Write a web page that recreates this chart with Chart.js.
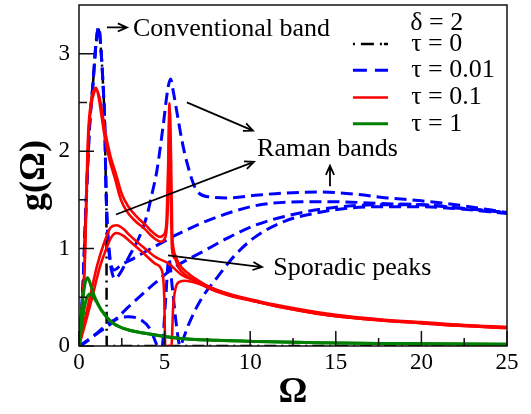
<!DOCTYPE html>
<html>
<head>
<meta charset="utf-8">
<script src="https://cdn.jsdelivr.net/npm/chart.js@4.4.1/dist/chart.umd.min.js"></script>
<style>
  html, body { margin: 0; padding: 0; background: #fff; }
  #wrap { width: 531px; height: 414px; }
  .warm { position: absolute; left: -999px; top: 0; font-family: "Liberation Serif"; }
</style>
</head>
<body>
<div class="warm">Ωg τδ 0123 <b>Ω</b></div>
<div id="wrap"><canvas id="c" width="531" height="414"></canvas></div>
<script>
// g(Ω), as [Ω, g] pairs
const tau0 = [[0,0],[0.2,0.5],[0.4,1.4],[0.62,2.26],[0.82,2.7],[1.0,3.1],[1.15,3.25],[1.3,3.0],[1.4,2.7],[1.5,2.3],[1.58,1.6],[1.6,1.42],[1.62,0],[5,0],[25,0]];

const tau001a = [[0,0],[0.2,0.5],[0.4,1.4],[0.62,2.26],[0.82,2.7],[1.0,3.12],[1.15,3.27],[1.3,3.0],[1.4,2.7],[1.5,2.3],[1.58,1.6],[1.65,1.25],[1.79,0.9],[1.95,0.74],[2.1,0.69],[2.3,0.72],[2.9,0.91],[3.6,1.15],[4.0,1.36],[4.25,1.55],[4.55,1.8],[4.9,2.24],[5.2,2.65],[5.35,2.74],[5.5,2.62],[5.7,2.42],[6.0,2.12],[6.28,1.9],[6.86,1.6],[7.64,1.53],[8.7,1.52],[10.5,1.55],[12,1.57],[14,1.58],[16,1.56],[18,1.52],[20,1.49],[22,1.45],[25,1.37]];
const tau001b = [[0,0],[0.2,0.5],[0.4,1.4],[0.62,2.26],[0.82,2.7],[1.0,3.12],[1.15,3.27],[1.3,3.0],[1.4,2.7],[1.5,2.3],[1.58,1.6],[1.65,1.25],[1.78,0.95],[1.9,0.82],[2.05,0.78],[2.45,0.83],[3.2,0.9],[4.0,0.98],[5.8,1.15],[7.7,1.3],[10.3,1.44],[13,1.48],[15,1.48],[18,1.46],[20,1.45],[22,1.42],[25,1.37]];
const tau001c = [[0,0],[0.33,0.03],[1.0,0.12],[1.87,0.23],[3.0,0.42],[4.4,0.64],[5.6,0.81],[7.35,0.98],[8.7,1.11],[10.3,1.24],[12,1.33],[14,1.4],[16,1.44],[18,1.45],[20,1.45],[22,1.42],[25,1.37]];
const tau001d = [[0,0],[0.5,0.06],[1.1,0.14],[1.87,0.25],[2.86,0.3],[3.6,0.27],[4.2,0.16],[4.5,0.03],[4.6,0],[4.85,0],[5.05,0.45],[5.25,0.9],[5.45,0.6],[5.7,0.2],[5.9,0],[6.1,0.08],[6.4,0.22],[7.1,0.47],[8.1,0.71],[9.1,0.93],[10.3,1.12],[12,1.28],[14,1.37],[16,1.42],[18,1.43],[20,1.43],[22,1.41],[25,1.36]];

const tau01a = [[0,0],[0.15,0.35],[0.33,0.85],[0.42,1.5],[0.53,2.16],[0.7,2.5],[0.85,2.62],[1.0,2.65],[1.15,2.55],[1.3,2.38],[1.5,2.15],[1.8,1.9],[2.1,1.72],[2.45,1.5],[2.8,1.38],[3.3,1.28],[3.85,1.2],[4.3,1.12],[4.8,1.07],[5.0,1.1],[5.1,1.17],[5.2,1.5],[5.28,2.49],[5.36,1.6],[5.43,1.0],[5.6,0.9],[5.8,0.81],[6.3,0.72],[6.95,0.65],[7.6,0.59],[8.7,0.52],[10.5,0.45],[12.5,0.38],[15,0.31],[17.5,0.27],[20,0.24],[22.5,0.21],[25,0.19]];
const tau01b = [[0,0],[0.15,0.33],[0.33,0.8],[0.43,1.45],[0.55,2.12],[0.72,2.47],[0.88,2.6],[1.03,2.63],[1.2,2.55],[1.35,2.4],[1.55,2.18],[1.85,1.94],[2.15,1.77],[2.5,1.56],[2.85,1.44],[3.35,1.33],[3.9,1.24],[4.35,1.16],[4.75,1.12],[4.95,1.14],[5.1,1.25],[5.2,1.8],[5.3,2.42],[5.38,1.9],[5.44,1.2],[5.52,1.0],[5.65,0.92],[5.85,0.84],[6.35,0.75],[7.0,0.67],[7.6,0.61],[8.7,0.54],[10.5,0.46],[12.5,0.39],[15,0.32],[17.5,0.275],[20,0.245],[22.5,0.215],[25,0.195]];
const tau01c = [[0,0],[0.35,0.28],[0.7,0.55],[1.05,0.82],[1.45,1.05],[1.87,1.22],[2.2,1.24],[2.6,1.2],[3.0,1.13],[3.85,1.0],[4.5,0.91],[5.2,0.85],[6.0,0.73],[6.8,0.67],[7.6,0.6],[8.7,0.53],[10.5,0.45],[12.5,0.375],[15,0.305],[17.5,0.265],[20,0.235],[22.5,0.205],[25,0.185]];
const tau01d = [[0,0],[0.4,0.25],[0.8,0.52],[1.2,0.8],[1.6,1.0],[1.9,1.12],[2.2,1.16],[2.6,1.13],[3.0,1.07],[3.85,0.94],[4.5,0.84],[4.85,0.77],[4.98,0.5],[5.04,0],[5.4,0],[5.5,0.4],[5.65,0.6],[5.9,0.66],[6.2,0.67],[6.8,0.65],[7.6,0.6],[8.7,0.53],[10.5,0.45],[12.5,0.375],[15,0.305],[17.5,0.265],[20,0.235],[22.5,0.205],[25,0.185]];

const tau1a = [[0,0],[0.12,0.3],[0.25,0.52],[0.38,0.66],[0.5,0.7],[0.62,0.66],[0.8,0.56],[1.0,0.47],[1.3,0.37],[1.87,0.25],[2.6,0.18],[3.85,0.13],[5.8,0.08],[8,0.058],[10.45,0.045],[14,0.033],[18,0.026],[25,0.018]];
const tau1b = [[0,0],[0.15,0.2],[0.3,0.38],[0.45,0.49],[0.62,0.53],[0.8,0.51],[1.0,0.46],[1.3,0.37],[1.87,0.25],[2.6,0.18],[3.85,0.13],[5.8,0.08],[8,0.058],[10.45,0.045],[14,0.033],[18,0.026],[25,0.018]];

const seriesLabels = ['τ = 0', 'τ = 0.01', 'τ = 0.1', 'τ = 1'];
const legendTitle = 'δ = 2';
const xMajor = [0, 5, 10, 15, 20, 25];
const xMinor = [2.5, 7.5, 12.5, 17.5, 22.5];
const yMajor = [0, 1, 2, 3];
const yMinor = [0.5, 1.5, 2.5];

const SERIF = "'Liberation Serif', 'Times New Roman', Times, serif";
const styles = [
  { color: '#000000', dash: [12, 5, 2, 5], width: 2.5 },
  { color: '#0000ff', dash: [12, 6], width: 3 },
  { color: '#ff0000', dash: [], width: 2.6 },
  { color: '#008000', dash: [], width: 3 }
];

// which series group each curve belongs to; later groups draw on top
const curves = [
  [tau0, 0],
  [tau001a, 1], [tau001b, 1], [tau001c, 1], [tau001d, 1],
  [tau01a, 2], [tau01b, 2], [tau01c, 2], [tau01d, 2],
  [tau1a, 3], [tau1b, 3]
];

const datasets = curves.map(([pts, g]) => ({
  label: seriesLabels[g],
  data: pts.map(([x, y]) => ({ x, y })),
  borderColor: styles[g].color,
  borderDash: styles[g].dash,
  borderWidth: styles[g].width,
  pointRadius: 0,
  pointHoverRadius: 0,
  fill: false,
  cubicInterpolationMode: 'monotone',
  order: 10 - g
}));

// annotation text + arrows, in data coordinates
const notes = [
  { text: 'Conventional band', x: 3.15, y: 3.25 },
  { text: 'Raman bands', x: 10.4, y: 2.02 },
  { text: 'Sporadic peaks', x: 11.35, y: 0.8 }
];
const arrows = [
  [1.63, 3.27, 2.8, 3.27],
  [6.3, 2.5, 10.16, 2.21],
  [2.16, 1.35, 10.22, 1.89],
  [14.66, 1.64, 14.66, 1.85],
  [5.2, 0.93, 10.69, 0.81]
];

function arrow(ctx, x1, y1, x2, y2) {
  const a = Math.atan2(y2 - y1, x2 - x1);
  const h = 10, s = 0.42;
  ctx.beginPath();
  ctx.moveTo(x1, y1); ctx.lineTo(x2, y2);
  ctx.moveTo(x2 - h * Math.cos(a - s), y2 - h * Math.sin(a - s));
  ctx.lineTo(x2, y2);
  ctx.lineTo(x2 - h * Math.cos(a + s), y2 - h * Math.sin(a + s));
  ctx.stroke();
}

const decorations = {
  id: 'decorations',
  afterDatasetsDraw(chart) {
    const { ctx, chartArea: a, scales: { x, y } } = chart;
    ctx.save();
    // frame + inward ticks
    ctx.strokeStyle = '#111';
    ctx.lineWidth = 1.5;
    ctx.setLineDash([]);
    ctx.strokeRect(a.left, a.top, a.right - a.left, a.bottom - a.top);
    ctx.beginPath();
    xMajor.forEach(v => { const p = x.getPixelForValue(v); ctx.moveTo(p, a.bottom); ctx.lineTo(p, a.bottom - 15); });
    xMinor.forEach(v => { const p = x.getPixelForValue(v); ctx.moveTo(p, a.bottom); ctx.lineTo(p, a.bottom - 8); });
    yMajor.forEach(v => { const p = y.getPixelForValue(v); ctx.moveTo(a.left, p); ctx.lineTo(a.left + 15, p); });
    yMinor.forEach(v => { const p = y.getPixelForValue(v); ctx.moveTo(a.left, p); ctx.lineTo(a.left + 8, p); });
    ctx.stroke();

    // annotations
    ctx.fillStyle = '#000';
    ctx.strokeStyle = '#000';
    ctx.lineWidth = 1.8;
    ctx.font = '26px ' + SERIF;
    ctx.textBaseline = 'middle';
    ctx.textAlign = 'left';
    notes.forEach(n => ctx.fillText(n.text, x.getPixelForValue(n.x), y.getPixelForValue(n.y)));
    arrows.forEach(([x1, y1, x2, y2]) => arrow(ctx,
      x.getPixelForValue(x1), y.getPixelForValue(y1),
      x.getPixelForValue(x2), y.getPixelForValue(y2)));

    // legend inside the plot, top right
    const lx1 = x.getPixelForValue(16.0), lx2 = x.getPixelForValue(18.05), tx = x.getPixelForValue(19.4);
    ctx.fillText(legendTitle, x.getPixelForValue(19.35), y.getPixelForValue(3.31));
    const rows = [3.1, 2.83, 2.55, 2.28];
    seriesLabels.forEach((lab, i) => {
      const py = y.getPixelForValue(rows[i]);
      ctx.strokeStyle = styles[i].color;
      ctx.lineWidth = styles[i].width;
      ctx.setLineDash(i === 0 ? [2, 6, 13, 6, 2] : styles[i].dash.length ? [14, 8] : []);
      ctx.beginPath(); ctx.moveTo(lx1, py); ctx.lineTo(lx2, py); ctx.stroke();
      ctx.setLineDash([]);
      ctx.fillText(lab, tx, py);
    });
    ctx.restore();
  }
};

function draw() {
  new Chart(document.getElementById('c'), {
    type: 'line',
    data: { datasets },
    options: {
      responsive: false,
      animation: false,
      layout: { padding: { top: 5, right: 24, left: 0, bottom: 0 } },
      plugins: { legend: { display: false }, tooltip: { enabled: false } },
      scales: {
        x: {
          type: 'linear', min: 0, max: 25,
          afterFit: s => { s.height = 68; s.paddingLeft = 0; s.paddingRight = 0; },
          grid: { display: false, drawTicks: false },
          border: { display: false },
          ticks: { stepSize: 5, maxRotation: 0, padding: 3, color: '#000', font: { family: SERIF, size: 23 } },
          title: { display: true, text: 'Ω', color: '#000', font: { family: SERIF, size: 36, weight: 'bold', lineHeight: 1 }, padding: { top: 0, bottom: 3 } }
        },
        y: {
          type: 'linear', min: 0, max: 3.5,
          afterFit: s => { s.width = 79; s.paddingTop = 0; s.paddingBottom = 0; },
          afterBuildTicks: s => { s.ticks = s.ticks.filter(t => yMajor.includes(t.value)); },
          grid: { display: false, drawTicks: false },
          border: { display: false },
          ticks: { stepSize: 1, padding: 9, color: '#000', font: { family: SERIF, size: 23 } },
          title: { display: true, text: 'g(Ω)', color: '#000', font: { family: SERIF, size: 36, weight: 'bold', lineHeight: 1.2 }, padding: { top: 13, bottom: 0 } }
        }
      }
    },
    plugins: [decorations]
  });
}

if (document.fonts && document.fonts.load) {
  Promise.all([
    document.fonts.load("24px 'Liberation Serif'"),
    document.fonts.load("bold 32px 'Liberation Serif'")
  ]).then(draw, draw);
} else {
  draw();
}
</script>
</body>
</html>
